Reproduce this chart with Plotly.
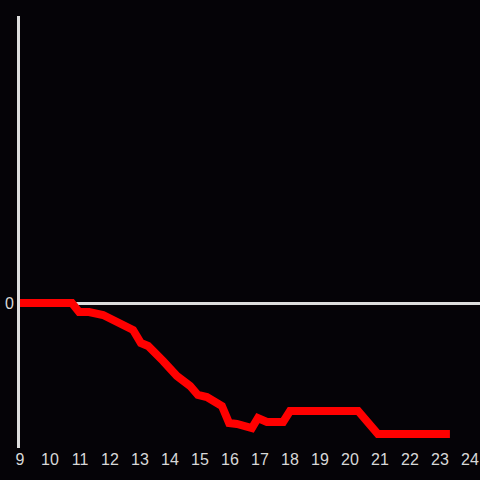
import plotly.graph_objects as go

hours = [9, 10.73, 10.97, 11.3, 11.77, 12.23, 12.77, 13.03, 13.27, 13.77, 14.23, 14.67, 14.93,
         15.23, 15.73, 15.97, 16.23, 16.73, 16.93, 17.23, 17.77, 18.0, 20.27, 20.93, 23.33]
values = [0, 0, -9, -9, -12, -18, -27, -40, -43, -58, -73, -83, -92,
          -94, -103, -120, -121, -125, -115, -119, -119, -108, -108, -131, -131]

x_ticks = list(range(9, 25))
x_labels = [str(t) for t in x_ticks]

fig = go.Figure()
fig.add_trace(go.Scatter(x=hours, y=values, mode="lines",
                         line=dict(color="#ff0000", width=8), hoverinfo="skip"))

fig.update_layout(
    width=480, height=480,
    margin=dict(l=20, r=0, t=16, b=32),
    paper_bgcolor="#050307", plot_bgcolor="#050307",
    showlegend=False,
    font=dict(family="Liberation Sans, Arial", size=16, color="#d8d8d8"),
    xaxis=dict(range=[9, 24.333], tickvals=x_ticks, ticktext=x_labels,
               showgrid=False, zeroline=False, showline=False, ticks=""),
    yaxis=dict(range=[-145, 287], tickvals=[0], ticktext=["0"],
               showgrid=False, zeroline=True, zerolinecolor="#dddddd", zerolinewidth=3,
               showline=True, linecolor="#dddddd", linewidth=3, ticks=""),
)
fig.write_html("out.html", config={"displayModeBar": False},
               post_script="document.body.style.margin='0';document.body.style.background='#050307';")
